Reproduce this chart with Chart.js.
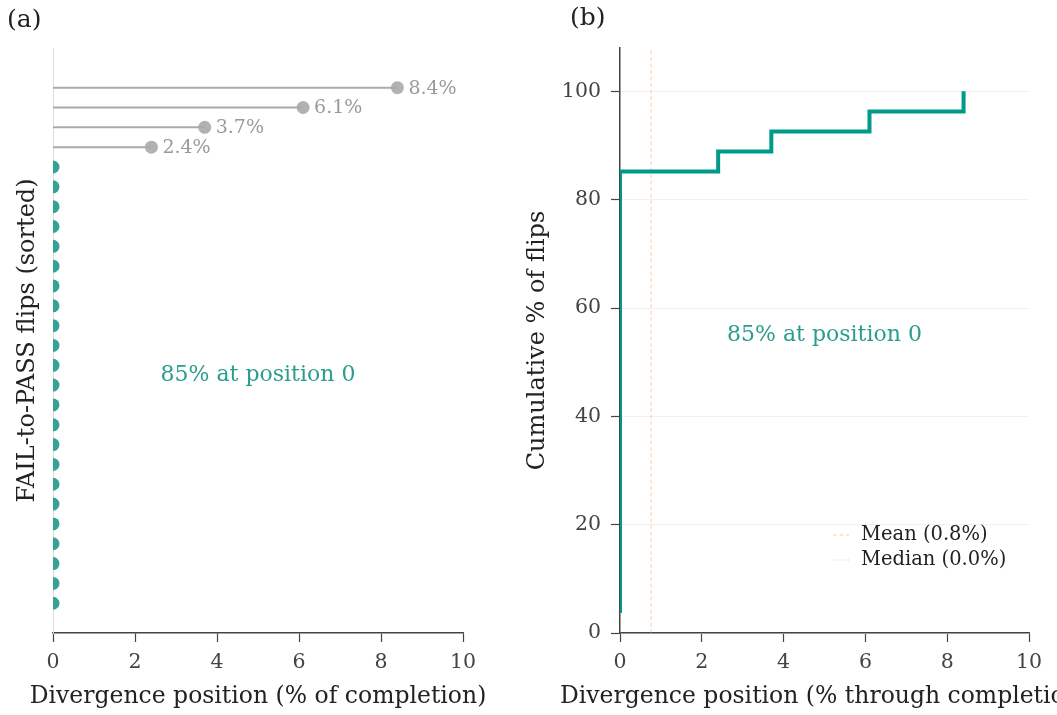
<!DOCTYPE html>
<html>
<head>
<meta charset="utf-8">
<script src="https://cdn.jsdelivr.net/npm/chart.js@4.4.1/dist/chart.umd.min.js"></script>
<style>
  html, body { margin: 0; padding: 0; background: #fff; }
  body { width: 1057px; height: 715px; overflow: hidden; position: relative; }
  #wrap-a { position: absolute; left: 0; top: 0; width: 520px; height: 715px; }
  #wrap-b { position: absolute; left: 520px; top: 0; width: 620px; height: 715px; }
</style>
</head>
<body>
<div id="wrap-a"><canvas id="lollipop-chart" width="520" height="715"></canvas></div>
<div id="wrap-b"><canvas id="cdf-chart" width="620" height="715"></canvas></div>
<script>
// Divergence position of each FAIL-to-PASS flip, sorted (% of completion)
const flipPositions = [
  0, 0, 0, 0, 0, 0, 0, 0, 0, 0, 0, 0, 0, 0, 0, 0, 0, 0, 0, 0, 0, 0, 0,
  2.4, 3.7, 6.1, 8.4
];
const xTicks = [0, 2, 4, 6, 8, 10];

// Cumulative distribution (panel b)
const cdfX = [0, 0, 2.4, 3.7, 6.1, 8.4];
const cdfY = [3.7, 85.2, 88.9, 92.6, 96.3, 100];
const cdfTicks = [0, 20, 40, 60, 80, 100];
const meanPosition = 0.76;
const medianPosition = 0.0;
const shareAtZero = 85;

const SERIF = "'DejaVu Serif', 'Liberation Serif', serif";
Chart.defaults.font.family = SERIF;
Chart.defaults.color = '#444';
Chart.defaults.animation = false;

const TEAL = '#2a9d8f';
const TEAL_LINE = '#00998a';
const GREY = '#aaaaaa';
const AXIS = '#444';

const tickFont = { size: 20.5, lineHeight: 1.2 };
const titleFont = { size: 23.5, lineHeight: 1.2 };

function fixedSize(prop, value) {
  return scale => { scale[prop] = value; };
}

// x titles are wider than the plot area, so draw them unsqueezed
function drawXTitle(chart, text) {
  const { ctx, chartArea } = chart;
  ctx.save();
  ctx.fillStyle = '#222';
  ctx.font = titleFont.size + 'px ' + SERIF;
  ctx.textAlign = 'center';
  ctx.textBaseline = 'middle';
  ctx.fillText(text, (chartArea.left + chartArea.right) / 2, 697);
  ctx.restore();
}

// ---------- panel (a): lollipop ----------
const zeroDots = [];
const stemSets = [];
const nonZeroDots = [];
flipPositions.forEach((v, i) => {
  if (v === 0) {
    zeroDots.push({ x: 0, y: i });
  } else {
    nonZeroDots.push({ x: v, y: i });
    stemSets.push({
      data: [{ x: 0, y: i }, { x: v, y: i }],
      showLine: true,
      borderColor: GREY,
      borderWidth: 2,
      pointRadius: 0
    });
  }
});

const lollipopLabels = {
  id: 'lollipopLabels',
  afterDatasetsDraw(chart) {
    const { ctx, scales: { x, y } } = chart;
    ctx.save();
    ctx.font = '19px ' + SERIF;
    ctx.fillStyle = '#999';
    ctx.textBaseline = 'middle';
    ctx.textAlign = 'left';
    nonZeroDots.forEach(p => {
      ctx.fillText(p.x.toFixed(1) + '%', x.getPixelForValue(p.x) + 11, y.getPixelForValue(p.y) + 1);
    });
    ctx.fillStyle = TEAL;
    ctx.font = '22px ' + SERIF;
    ctx.textAlign = 'center';
    ctx.fillText(shareAtZero + '% at position 0', x.getPixelForValue(5), y.getPixelForValue(11.5));
    ctx.fillStyle = '#222';
    ctx.font = '25px ' + SERIF;
    ctx.textAlign = 'left';
    ctx.fillText('(a)', 7, 20);
    ctx.restore();
    drawXTitle(chart, 'Divergence position (% of completion)');
  }
};

new Chart(document.getElementById('lollipop-chart'), {
  type: 'scatter',
  data: {
    datasets: [
      ...stemSets,
      {
        data: nonZeroDots,
        pointRadius: 6.5,
        pointHoverRadius: 6.5,
        backgroundColor: 'rgba(165,165,165,0.85)',
        borderWidth: 0
      },
      {
        data: zeroDots,
        pointRadius: 6.5,
        pointHoverRadius: 6.5,
        backgroundColor: 'rgba(42,157,143,0.95)',
        borderWidth: 0,
        clip: 0
      }
    ]
  },
  options: {
    responsive: false,
    devicePixelRatio: 1,
    layout: { padding: { left: 0, top: 48, right: 57, bottom: 0 } },
    plugins: { legend: { display: false }, tooltip: { enabled: false } },
    scales: {
      x: {
        type: 'linear',
        min: 0,
        max: 10,
        afterBuildTicks: scale => { scale.ticks = xTicks.map(v => ({ value: v })); },
        afterFit: fixedSize('height', 82),
        grid: { drawOnChartArea: false, tickLength: 9, tickColor: AXIS, tickWidth: 1.2 },
        border: { color: AXIS, width: 1.5 },
        ticks: { font: tickFont, color: '#444', padding: 8 },
        title: { display: false }
      },
      y: {
        type: 'linear',
        min: -1.5,
        max: 28,
        afterFit: fixedSize('width', 53),
        grid: { display: false },
        border: { color: '#dddddd', width: 1 },
        ticks: { display: false },
        title: {
          display: true,
          text: 'FAIL-to-PASS flips (sorted)',
          font: { size: 24, lineHeight: 1.2 },
          color: '#222',
          padding: { top: 13, bottom: 0 }
        }
      }
    }
  },
  plugins: [lollipopLabels]
});

// ---------- panel (b): cumulative distribution ----------
const cdfLabels = {
  id: 'cdfLabels',
  afterDatasetsDraw(chart) {
    const { ctx, scales: { x, y } } = chart;
    ctx.save();
    ctx.fillStyle = TEAL;
    ctx.font = '22px ' + SERIF;
    ctx.textAlign = 'center';
    ctx.textBaseline = 'middle';
    ctx.fillText(shareAtZero + '% at position 0', x.getPixelForValue(5), y.getPixelForValue(55));

    // legend
    const lx = 313, ly = 535, gap = 25;
    ctx.lineWidth = 1;
    ctx.strokeStyle = 'rgba(244,162,97,0.5)';
    ctx.setLineDash([4, 2.5]);
    ctx.beginPath(); ctx.moveTo(lx, ly); ctx.lineTo(lx + 16, ly); ctx.stroke();
    ctx.strokeStyle = 'rgba(231,111,81,0.45)';
    ctx.setLineDash([1, 1.5]);
    ctx.beginPath(); ctx.moveTo(lx, ly + gap); ctx.lineTo(lx + 16, ly + gap); ctx.stroke();
    ctx.setLineDash([]);
    ctx.fillStyle = '#222';
    ctx.font = '19.5px ' + SERIF;
    ctx.textAlign = 'left';
    ctx.fillText('Mean (' + meanPosition.toFixed(1) + '%)', lx + 28, ly);
    ctx.fillText('Median (' + medianPosition.toFixed(1) + '%)', lx + 28, ly + gap);

    ctx.font = '25px ' + SERIF;
    ctx.fillText('(b)', 50, 18);
    ctx.restore();
    drawXTitle(chart, 'Divergence position (% through completion)');
  }
};

new Chart(document.getElementById('cdf-chart'), {
  type: 'scatter',
  data: {
    datasets: [
      {
        data: cdfX.map((x, i) => ({ x, y: cdfY[i] })),
        showLine: true,
        stepped: 'before',
        borderColor: TEAL_LINE,
        borderWidth: 4,
        pointRadius: 0
      },
      {
        data: [{ x: meanPosition, y: 0 }, { x: meanPosition, y: 108 }],
        showLine: true,
        borderColor: 'rgba(244,162,97,0.5)',
        borderDash: [4, 2.5],
        borderWidth: 1,
        pointRadius: 0
      },
      {
        data: [{ x: medianPosition, y: 0 }, { x: medianPosition, y: 108 }],
        showLine: true,
        borderColor: 'rgba(231,111,81,0.45)',
        borderDash: [1, 1.5],
        borderWidth: 1,
        pointRadius: 0
      }
    ]
  },
  options: {
    responsive: false,
    devicePixelRatio: 1,
    layout: { padding: { left: 0, top: 48, right: 111, bottom: 0 } },
    plugins: { legend: { display: false }, tooltip: { enabled: false } },
    scales: {
      x: {
        type: 'linear',
        min: 0,
        max: 10,
        afterBuildTicks: scale => { scale.ticks = xTicks.map(v => ({ value: v })); },
        afterFit: fixedSize('height', 82),
        grid: { drawOnChartArea: false, tickLength: 9, tickColor: AXIS, tickWidth: 1.2 },
        border: { color: AXIS, width: 1.5 },
        ticks: { font: tickFont, color: '#444', padding: 8 },
        title: { display: false }
      },
      y: {
        type: 'linear',
        min: 0,
        max: 108,
        afterBuildTicks: scale => { scale.ticks = cdfTicks.map(v => ({ value: v })); },
        afterFit: fixedSize('width', 100),
        grid: { color: '#f0f0f0', lineWidth: 1, tickLength: 9, tickColor: AXIS, tickWidth: 1.2 },
        border: { color: AXIS, width: 1.5 },
        ticks: { font: tickFont, color: '#444', padding: 10 },
        title: {
          display: true,
          text: 'Cumulative % of flips',
          font: { size: 24, lineHeight: 1.2 },
          color: '#222',
          padding: { top: 3, bottom: 0 }
        }
      }
    }
  },
  plugins: [cdfLabels]
});
</script>
</body>
</html>
